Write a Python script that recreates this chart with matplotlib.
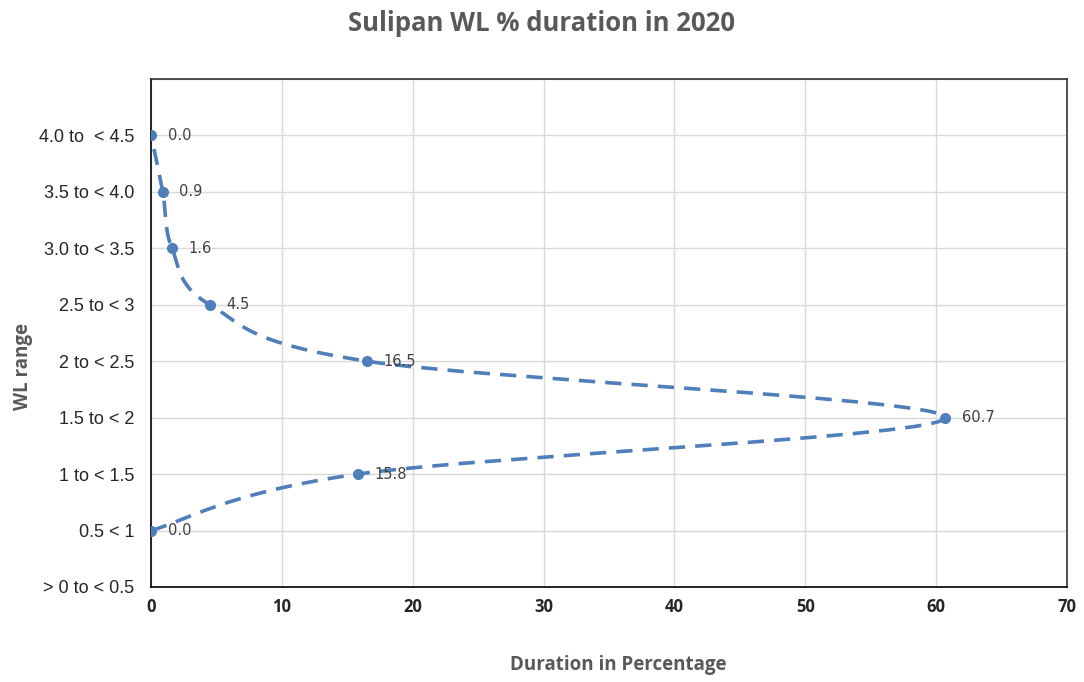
import matplotlib
matplotlib.use("Agg")
import matplotlib.pyplot as plt
from matplotlib.path import Path
from matplotlib.patches import PathPatch
import numpy as np

# categories from bottom to top
wl_ranges = ["> 0 to < 0.5", "0.5 < 1", "1 to < 1.5", "1.5 to < 2", "2 to < 2.5",
             "2.5 to < 3", "3.0 to < 3.5", "3.5 to < 4.0", "4.0 to  < 4.5"]
# durations (%) for 0.5<1 ... 4.0 to <4.5 (no point for the first range)
durations = [0.0, 15.8, 60.7, 16.5, 4.5, 1.6, 0.9, 0.0]
x_ticks = [0, 10, 20, 30, 40, 50, 60, 70]

line_color = "#4f7fba"

fig = plt.figure(figsize=(10.84, 6.82), dpi=100)
ax = fig.add_axes([0.1393, 0.1393, 0.845, 0.745])

ys = np.arange(1, len(durations) + 1)
xs = np.array(durations)

# smoothed line like Excel: cubic bezier segments (catmull-rom control points)
pts = np.column_stack([xs, ys]).astype(float)
verts = [pts[0]]
codes = [Path.MOVETO]
n = len(pts)
for i in range(n - 1):
    p0 = pts[max(i - 1, 0)]
    p1 = pts[i]
    p2 = pts[i + 1]
    p3 = pts[min(i + 2, n - 1)]
    c1 = p1 + (p2 - p0) / 6.0
    c2 = p2 - (p3 - p1) / 6.0
    verts += [c1, c2, p2]
    codes += [Path.CURVE4] * 3
curve = PathPatch(Path(verts, codes), fill=False, edgecolor=line_color,
                  linewidth=2.6, linestyle=(0, (4.5, 2.8)), capstyle="butt", zorder=3)
ax.add_patch(curve)

ax.plot(xs, ys, "o", color=line_color, markersize=7, zorder=4)

for x, y in zip(xs, ys):
    ax.annotate(f"{x:.1f}", (x, y), xytext=(12, 0), textcoords="offset points",
                va="center", ha="left", fontsize=10.5, color="#404040",
                family="DejaVu Sans", zorder=5)

ax.set_xlim(0, 70)
ax.set_ylim(0, 9)
ax.set_xticks(x_ticks)
ax.set_yticks(range(len(wl_ranges)))
ax.set_yticklabels(wl_ranges, fontsize=13, color="#262626", family="Liberation Sans")
for lab in ax.get_xticklabels():
    lab.set_fontweight("bold")
    lab.set_fontsize(12)
    lab.set_color("#262626")
    lab.set_family("Open Sans")
ax.tick_params(length=0, pad=8)
ax.tick_params(axis="y", pad=12)

ax.set_yticks(range(1, 10), minor=True)
ax.grid(True, which="major", axis="x", color="#d9d9d9", linewidth=1)
ax.grid(True, which="minor", axis="y", color="#d9d9d9", linewidth=1)
ax.grid(True, which="major", axis="y", color="#d9d9d9", linewidth=1)
ax.tick_params(which="minor", length=0)
ax.set_axisbelow(True)

for s in ax.spines.values():
    s.set_color("#333333")
    s.set_linewidth(1.2)
ax.spines["left"].set_color("black")
ax.spines["bottom"].set_color("black")

fig.text(0.5, 0.965, "Sulipan WL % duration in 2020", ha="center", va="center",
         fontsize=18.5, fontweight="bold", color="#595959", family="Open Sans")
fig.text(0.57, 0.025, "Duration in Percentage", ha="center", va="center",
         fontsize=13.5, fontweight="bold", color="#595959", family="Open Sans")
fig.text(0.021, 0.463, "WL range", ha="center", va="center", rotation=90,
         fontsize=13.5, fontweight="bold", color="#595959", family="Open Sans")

fig.savefig("out.png", dpi=100, facecolor="white")
